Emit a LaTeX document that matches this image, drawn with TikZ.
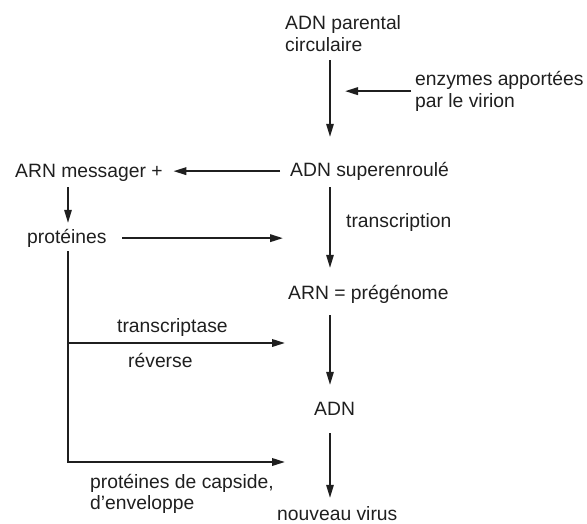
\documentclass[tikz,border=0pt]{standalone}
\usepackage{fontspec}
\setmainfont{Liberation Sans}
\usetikzlibrary{arrows.meta,calc}
\begin{document}
\begin{tikzpicture}[x=1pt,y=-1pt,
  lbl/.style={anchor=base west, inner sep=0pt, text height=14.5pt, text depth=4.8pt,
              font=\fontsize{19.3}{22}\selectfont, text=black!88},
  arr/.style={draw=black!88, line width=1.4pt, -{Triangle[length=13pt,width=7.5pt]}},
  harr/.style={arr, line width=2pt}]
\useasboundingbox (0,0) rectangle (587,523);

% texts
\node[lbl] (par1) at (285,29) {ADN parental};
\node[lbl] (par2) at (285,51) {circulaire};
\node[lbl] (enz1) at (415,85) {enzymes apportées};
\node[lbl] (enz2) at (415,107) {par le virion};
\node[lbl] (sup) at (290,176) {ADN superenroulé};
\node[lbl] (arn) at (15,177) {ARN messager +};
\node[lbl] (prot) at (27,243) {protéines};
\node[lbl] (trc) at (346,227) {transcription};
\node[lbl] (pre) at (288,299) {ARN = prégénome};
\node[lbl] (trt) at (117,332) {transcriptase};
\node[lbl] (rev) at (128,367) {réverse};
\node[lbl] (adn) at (314,415) {ADN};
\node[lbl] (cap1) at (90,488) {protéines de capside,};
\node[lbl] (cap2) at (90,509) {d'enveloppe};
\node[lbl] (nv) at (277,520) {nouveau virus};

% axes and free ends
\coordinate (ax) at (330,0);
\coordinate (lx) at (68,0);
\coordinate (em) at ($(enz1.west)!0.5!(enz2.west)$);
\coordinate (rt) at (285,343);
\coordinate (ct) at (285,462);

% main vertical chain
\draw[arr, shorten <=4pt, shorten >=24.5pt] (par2.south -| ax) -- (sup.north -| ax);
\draw[arr, shorten <=6pt, shorten >=16.5pt] (sup.south -| ax) -- (pre.north -| ax);
\draw[arr, shorten <=11pt, shorten >=15.5pt] (pre.south -| ax) -- (adn.north -| ax);
\draw[arr, shorten <=13pt, shorten >=7.5pt] (adn.south -| ax) -- (nv.north -| ax);

% enzymes
\draw[harr, shorten <=4pt, shorten >=15pt] (em) -- (em -| ax);

% left branch
\draw[harr, shorten <=10pt, shorten >=10.5pt] (sup.west) -- (sup.west -| arn.east);
\draw[arr, shorten <=5pt, shorten >=5.5pt] (arn.south -| lx) -- (prot.north -| lx);
\draw[harr, shorten <=15.5pt, shorten >=47pt] (prot.east) -- (prot.east -| ax);
\draw[harr] ($(prot.south -| lx)+(0,3)$) |- (ct);
\draw[harr] (lx |- rt) -- (rt);
\end{tikzpicture}
\end{document}
